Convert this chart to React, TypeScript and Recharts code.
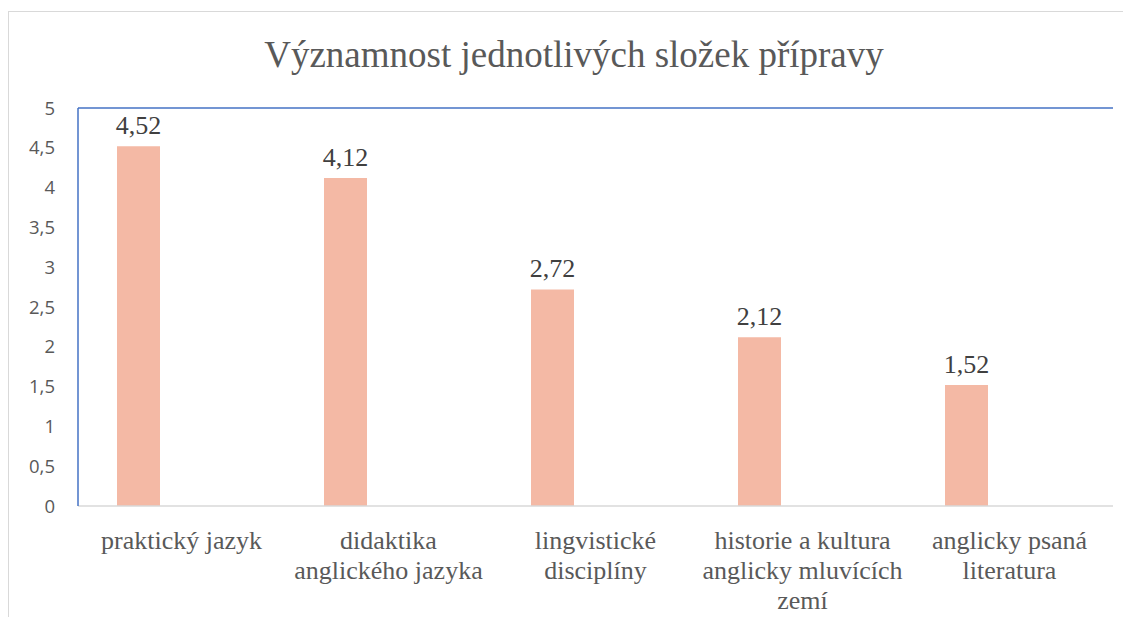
import React from "react";
import { BarChart, Bar, XAxis, YAxis, LabelList, ReferenceLine } from "recharts";

const categories = [
  "praktický jazyk",
  "didaktika anglického jazyka",
  "lingvistické disciplíny",
  "historie a kultura anglicky mluvících zemí",
  "anglicky psaná literatura",
];

// how each category label breaks into lines under the axis
const categoryLines = [
  ["praktický jazyk"],
  ["didaktika", "anglického jazyka"],
  ["lingvistické", "disciplíny"],
  ["historie a kultura", "anglicky mluvících", "zemí"],
  ["anglicky psaná", "literatura"],
];

const values = [4.52, 4.12, 2.72, 2.12, 1.52];
// the source chart reserves room for two further (empty) series
const emptyA = [null, null, null, null, null];
const emptyB = [null, null, null, null, null];

const yTicks = [0, 0.5, 1, 1.5, 2, 2.5, 3, 3.5, 4, 4.5, 5];

const data = categories.map((c, i) => ({
  name: c,
  value: values[i],
  a: emptyA[i],
  b: emptyB[i],
}));

const comma = (v: any) => String(v).replace(".", ",");

const SERIF = "'Liberation Serif', 'Times New Roman', serif";
const SANS = "'Open Sans', 'Noto Sans', sans-serif";

function CategoryTick(props: any) {
  const { x, y, index } = props;
  const lines = categoryLines[index] || [props.payload.value];
  return (
    <g>
      {lines.map((ln: string, k: number) => (
        <text
          key={k}
          x={x}
          y={y + 43 + k * 30}
          textAnchor="middle"
          fill="#595959"
          fontFamily={SERIF}
          fontSize={26}
        >
          {ln}
        </text>
      ))}
    </g>
  );
}

export default function App() {
  return (
    <div style={{ position: "relative", width: 1115, height: 609, overflow: "hidden", background: "#fff" }}>
      <div
        style={{
          position: "absolute",
          left: 0,
          top: 3,
          width: 1300,
          height: 800,
          border: "1px solid #d9d9d9",
        }}
      />
      <div
        style={{
          position: "absolute",
          left: 0,
          width: 1132,
          top: 28,
          textAlign: "center",
          fontFamily: SERIF,
          fontSize: 37,
          lineHeight: "37px",
          color: "#595959",
        }}
      >
        Významnost jednotlivých složek přípravy
      </div>
      <div style={{ position: "absolute", left: 0, top: 0 }}>
        <BarChart
          width={1115}
          height={609}
          data={data}
          margin={{ top: 100, right: 10, bottom: 11, left: 0 }}
          barCategoryGap={39}
          barGap={0}
        >
          <XAxis
            dataKey="name"
            interval={0}
            height={100}
            tickLine={false}
            tickSize={0}
            tickMargin={0}
            axisLine={{ stroke: "#d9d9d9", strokeWidth: 1.5 }}
            tick={<CategoryTick />}
          />
          <YAxis
            domain={[0, 5]}
            ticks={yTicks}
            width={70}
            tickLine={false}
            tickSize={0}
            tickMargin={23}
            tickFormatter={comma}
            axisLine={{ stroke: "#4472c4", strokeWidth: 1.5 }}
            tick={{ fill: "#595959", fontFamily: SANS, fontSize: 18.5 }}
          />
          <YAxis
            yAxisId="r"
            orientation="right"
            width={0}
            tick={false}
            tickLine={false}
            axisLine={{ stroke: "#4472c4", strokeWidth: 1.5 }}
          />
          <ReferenceLine y={5} stroke="#4472c4" strokeWidth={1.5} />
          <Bar dataKey="value" fill="#f4b9a5" isAnimationActive={false}>
            <LabelList
              dataKey="value"
              position="top"
              offset={12}
              formatter={comma}
              fill="#404040"
              fontFamily={SERIF}
              fontSize={26}
            />
          </Bar>
          <Bar dataKey="a" fill="#a5a5a5" isAnimationActive={false} />
          <Bar dataKey="b" fill="#ffc000" isAnimationActive={false} />
        </BarChart>
      </div>
    </div>
  );
}
